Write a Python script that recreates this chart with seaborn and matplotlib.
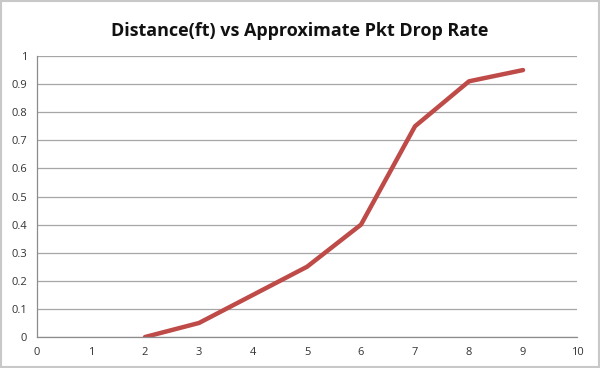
import pandas as pd
import matplotlib
matplotlib.use("Agg")
import matplotlib.pyplot as plt
import seaborn as sns

# values
distance = [2, 3, 4, 5, 6, 7, 8, 9]
drop_rate = [0.0, 0.05, 0.15, 0.25, 0.40, 0.75, 0.91, 0.95]
x_ticks = list(range(0, 11))
y_ticks = [0, 0.1, 0.2, 0.3, 0.4, 0.5, 0.6, 0.7, 0.8, 0.9, 1]
y_labels = ["0", "0.1", "0.2", "0.3", "0.4", "0.5", "0.6", "0.7", "0.8", "0.9", "1"]

df = pd.DataFrame({"distance": distance, "rate": drop_rate})

sns.set_style("white")
plt.rcParams["font.family"] = ["Open Sans", "DejaVu Sans"]

fig = plt.figure(figsize=(6, 3.68), dpi=100)
ax = fig.add_axes([0.0617, 0.0842, 0.9, 0.7636])

sns.lineplot(data=df, x="distance", y="rate", ax=ax, color="#BE4B48",
             linewidth=3.2, solid_capstyle="round", solid_joinstyle="round")

ax.set_xlim(0, 10)
ax.set_ylim(0, 1)
ax.set_xticks(x_ticks)
ax.set_yticks(y_ticks)
ax.set_yticklabels(y_labels)
ax.tick_params(axis="both", labelsize=8, colors="#333333", length=4,
               width=0.8, direction="out", pad=3)
ax.tick_params(axis="both", color="#8c8c8c")
ax.yaxis.grid(True, color="#a6a6a6", linewidth=0.9)
ax.set_axisbelow(True)
for side in ["top", "right"]:
    ax.spines[side].set_visible(False)
for side in ["left", "bottom"]:
    ax.spines[side].set_color("#8c8c8c")
    ax.spines[side].set_linewidth(0.9)
ax.set_xlabel("")
ax.set_ylabel("")

fig.suptitle("Distance(ft) vs Approximate Pkt Drop Rate", y=0.94,
             fontsize=13, fontweight="bold", color="#111111")

border = plt.Rectangle((0.002, 0.003), 0.996, 0.994, transform=fig.transFigure,
                       fill=False, edgecolor="#c8c8c8", linewidth=1.5)
fig.patches.append(border)

fig.savefig("out.png", dpi=100)
